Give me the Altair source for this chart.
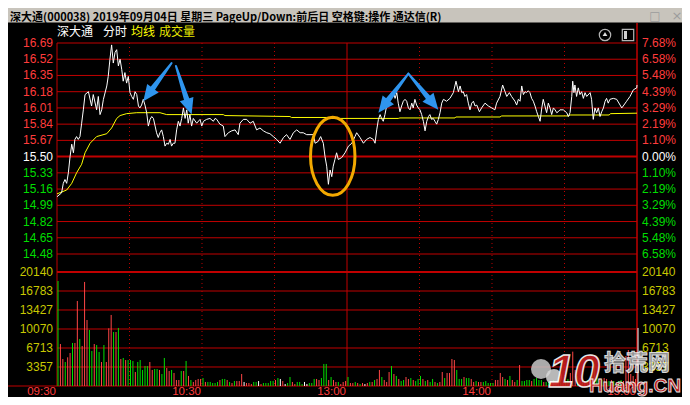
import math
import altair as alt
import pandas as pd

# ---------------- data ----------------
PREV_CLOSE = 15.50
PRICE_TICKS = [16.69, 16.52, 16.35, 16.18, 16.01, 15.84, 15.67, 15.50,
               15.33, 15.16, 14.99, 14.82, 14.65, 14.48]
VOL_TICKS = [20140, 16783, 13427, 10070, 6713, 3357]
TIME_LABELS = ["09:30", "10:30", "13:00", "14:00", "15:00"]
TIME_MINUTES = [0, 60, 120, 180, 240]
DOTTED_MINUTES = [30, 60, 90, 150, 180, 210]
SOLID_MINUTES = [0, 120]

TITLE = "深大通(000038)  2019年09月04日 星期三 PageUp/Down:前后日 空格键:操作 通达信(R)"
HEADER = ["深大通", "分时", "均线", "成交量"]

PRICE_MIN = [0, 1.9, 2.6, 3.3, 4.0, 4.7, 5.4, 6.1, 6.8, 7.4, 8.1, 8.8, 9.5, 10.2, 10.9, 11.6, 13.0, 14.3, 15.0, 16.4,
             17.1, 17.8, 18.5, 19.2, 20.6, 21.2, 21.9, 22.6, 23.3, 24.0, 24.7, 25.4, 26.1, 26.8, 27.4, 28.1, 28.8, 29.5, 30.2, 30.9,
             31.6, 32.3, 33.0, 33.7, 34.3, 35.0, 35.7, 36.4, 37.1, 37.8, 38.5, 39.2, 39.9, 40.6, 41.2, 41.9, 42.6, 43.3, 44.0, 44.7,
             45.4, 46.1, 46.8, 47.4, 48.1, 48.8, 49.5, 50.2, 50.9, 51.6, 52.3, 53.0, 53.7, 54.3, 55.0, 55.7, 56.4, 57.8, 59.2, 59.9,
             60.6, 61.9, 63.3, 64.7, 65.4, 66.1, 67.4, 68.8, 69.5, 70.9, 72.3, 73.7, 75.0, 75.7, 77.1, 78.5, 79.9, 81.2, 82.6, 84.0,
             85.4, 86.8, 88.1, 89.5, 90.9, 92.3, 93.7, 95.0, 96.4, 97.8, 99.2, 100.6, 101.9, 103.3, 104.7, 106.1, 106.8, 108.1, 109.1, 110.2,
             110.9, 111.6, 112.3, 113.0, 113.7, 114.3, 115.0, 115.7, 116.4, 117.8, 119.2, 120.6, 122.0, 123.3, 124.0, 125.4, 126.8, 128.1, 129.5, 130.9,
             131.6, 132.3, 133.0, 133.7, 134.3, 135.0, 135.7, 136.4, 137.1, 137.8, 138.5, 139.2, 139.9, 140.6, 141.2, 141.9, 142.6, 143.3, 144.0, 144.7,
             145.4, 146.1, 146.8, 147.4, 148.1, 148.8, 149.5, 150.2, 150.9, 151.6, 152.3, 153.0, 153.7, 154.3, 155.0, 155.7, 156.4, 157.1, 157.8, 158.5,
             159.2, 159.9, 161.2, 162.6, 164.0, 165.1, 166.1, 166.8, 167.5, 168.1, 168.8, 169.5, 170.2, 170.9, 171.6, 172.3, 173.0, 173.7, 174.8, 175.7,
             177.1, 178.5, 179.9, 181.2, 181.9, 183.3, 184.4, 185.4, 186.1, 187.2, 188.1, 189.5, 190.2, 190.9, 191.6, 192.3, 193.0, 193.7, 194.3, 195.0,
             195.7, 196.4, 197.1, 197.8, 198.5, 199.2, 199.9, 200.6, 201.2, 201.9, 202.6, 203.3, 204.0, 204.7, 205.4, 206.1, 206.8, 207.4, 208.1, 209.5,
             210.9, 211.6, 212.3, 213.0, 213.4, 213.9, 214.3, 215.0, 215.7, 216.4, 217.1, 217.8, 218.5, 219.2, 220.6, 221.2, 221.9, 222.6, 223.3, 224.0,
             224.7, 225.4, 226.1, 226.8, 227.4, 228.1, 228.8, 230.2, 231.6, 233.0, 233.7, 234.3, 235.7, 237.1, 238.5, 239.9, 240]
PRICE_VAL = [15.08, 15.12, 15.22, 15.26, 15.22, 15.33, 15.50, 15.63, 15.54, 15.68, 15.71, 15.68, 15.71, 15.85, 15.99, 16.15, 16.18, 16.03, 16.15, 15.99,
             16.13, 15.94, 15.99, 16.10, 16.24, 16.34, 16.52, 16.67, 16.48, 16.59, 16.62, 16.45, 16.52, 16.41, 16.29, 16.38, 16.27, 16.34, 16.17, 16.13,
             16.10, 16.18, 16.15, 16.03, 16.01, 16.04, 16.10, 16.04, 15.96, 15.82, 15.89, 15.92, 15.90, 15.82, 15.75, 15.70, 15.75, 15.78, 15.71, 15.61,
             15.64, 15.63, 15.68, 15.61, 15.64, 15.64, 15.78, 15.87, 15.82, 15.90, 16.01, 15.90, 15.99, 15.85, 15.94, 15.82, 15.90, 15.85, 15.89, 15.82,
             15.87, 15.89, 15.90, 15.87, 15.90, 15.89, 15.84, 15.82, 15.71, 15.75, 15.77, 15.78, 15.73, 15.85, 15.89, 15.89, 15.85, 15.87, 15.78, 15.80,
             15.77, 15.75, 15.74, 15.71, 15.68, 15.64, 15.70, 15.73, 15.68, 15.75, 15.78, 15.75, 15.75, 15.73, 15.73, 15.73, 15.64, 15.66, 15.71, 15.64,
             15.50, 15.40, 15.21, 15.36, 15.29, 15.40, 15.47, 15.54, 15.47, 15.49, 15.54, 15.61, 15.64, 15.71, 15.75, 15.70, 15.64, 15.68, 15.70, 15.68,
             15.64, 15.78, 15.89, 15.94, 15.90, 15.87, 15.94, 16.03, 16.10, 16.13, 16.17, 16.18, 16.11, 16.17, 16.06, 15.97, 16.03, 16.08, 16.10, 16.08,
             16.01, 15.99, 16.06, 16.01, 16.10, 16.04, 16.01, 15.99, 15.94, 15.87, 15.77, 15.87, 15.92, 15.94, 15.89, 15.90, 15.87, 15.84, 15.89, 15.96,
             16.06, 16.10, 16.08, 16.11, 16.17, 16.29, 16.18, 16.24, 16.17, 16.18, 16.13, 16.15, 16.06, 15.99, 16.06, 16.08, 16.03, 16.04, 15.97, 16.01,
             16.06, 16.03, 16.01, 15.99, 16.06, 16.13, 16.25, 16.18, 16.13, 16.17, 16.13, 16.08, 16.04, 16.10, 16.08, 16.24, 16.15, 16.18, 16.17, 16.19,
             16.17, 16.11, 16.08, 16.03, 15.97, 15.92, 15.87, 16.01, 16.10, 16.03, 15.96, 16.06, 16.01, 15.94, 16.01, 15.99, 15.96, 15.97, 15.99, 15.99,
             15.96, 15.92, 15.96, 16.13, 16.29, 16.17, 16.25, 16.13, 16.22, 16.15, 16.18, 16.11, 16.17, 16.13, 16.17, 16.10, 15.89, 16.01, 15.96, 16.01,
             15.92, 15.97, 16.01, 16.08, 16.11, 16.06, 16.10, 16.11, 16.10, 16.04, 16.01, 16.03, 16.08, 16.13, 16.20, 16.22, 16.25]

AVG_MIN = [0, 4.0, 6.1, 8.1, 10.2, 11.6, 13.7, 16.4, 20.6, 22.6, 24.7, 26.1, 28.8, 33.0, 42.6, 45.4, 68.8, 69.5,
           96.4, 97.0, 111.6, 112.3, 141.2, 141.9, 164.7, 165.0, 183.3, 184.0, 211.6, 212.3, 228.5, 229.0, 240]
AVG_VAL = [15.11, 15.15, 15.22, 15.33, 15.42, 15.54, 15.64, 15.71, 15.74, 15.80, 15.90, 15.93, 15.95, 15.96, 15.96, 15.94, 15.94, 15.93,
           15.92, 15.91, 15.91, 15.90, 15.90, 15.905, 15.905, 15.915, 15.915, 15.926, 15.926, 15.936, 15.936, 15.95, 15.955]

VOL = [18550, 7420, 4770, 4240, 5070, 5830, 7600, 7600, 15020, 8300,
       7070, 18380, 11660, 9900, 6180, 7420, 7240, 6010, 4240, 7240,
       4240, 10190, 12550, 9540, 9540, 10250, 4770, 4950, 4590, 4590,
       4590, 4420, 2470, 4240, 4590, 2830, 3530, 3530, 4240, 2830,
       3000, 3000, 2830, 2120, 4950, 3180, 2650, 2830, 2300, 1060,
       1060, 2650, 2650, 4420, 1770, 1060, 710, 1060, 1240, 1240,
       1410, 710, 710, 710, 530, 530, 710, 1060, 1240, 1240,
       1060, 710, 530, 880, 880, 880, 2120, 710, 530, 530,
       350, 710, 710, 880, 350, 530, 530, 530, 880, 880,
       1060, 1410, 1240, 880, 350, 530, 1590, 710, 350, 710,
       710, 350, 710, 350, 530, 530, 1240, 1240, 1060, 1410,
       3890, 3890, 1060, 1590, 1060, 710, 710, 350, 710, 880,
       1590, 530, 530, 710, 530, 350, 530, 350, 530, 710,
       710, 1060, 1240, 2830, 1590, 1060, 710, 2470, 3530, 2120,
       1770, 1240, 880, 1060, 1590, 1240, 1410, 1060, 880, 1240,
       1770, 1240, 880, 1060, 710, 1240, 710, 530, 710, 2470,
       1410, 2300, 2300, 4770, 4590, 2830, 1240, 1240, 1590, 1410,
       1410, 1240, 710, 880, 710, 710, 710, 880, 530, 530,
       530, 1060, 1060, 2300, 1590, 1240, 1060, 1770, 1060, 710,
       1060, 3710, 880, 880, 1060, 1060, 880, 1240, 1410, 1060,
       1060, 710, 710, 710, 880, 1060, 710, 880, 1060, 710,
       880, 1240, 2300, 6070, 2830, 1770, 1410, 1060, 880, 1060,
       880, 1770, 3900, 2120, 1240, 1060, 1410, 1240, 880, 1060,
       880, 710, 880, 1060, 880, 5300, 6360, 2120, 1770, 1240,
       10250]
VOL_DIR = "".join([
    "grrgrrgrrg", "rrrggrggrg", "rrrgrgrgrg", "ggrgggggrr", "ggrggrrgrr",
    "rgrgrgrrrr", "grgggggrgg", "rgrgrrrwrr", "rggwrggggg", "rgwrwggrrg",
    "ggwwgggrrg", "ggrgrrgrrr", "grrgrgrwrg", "rgrrgrrrgr", "grggrrgrgg",
    "grgrggrgrr", "grrrrgggrg", "grrgrrgggg", "grrrrgrgrr", "grggggrggg",
    "grggrggrgr", "ggrrrgrgrg", "rgggrgrrgr", "grggrrrrrr", "w"])
assert len(PRICE_MIN) == len(PRICE_VAL)
assert len(AVG_MIN) == len(AVG_VAL)
assert len(VOL) == 241 and len(VOL_DIR) == 241

# annotation anchors in data coordinates (minute, price)
ARROW_APEX = [(47.4, 16.48), (49.2, 16.45), (145.4, 16.37), (145.4, 16.37)]
ARROW_TIP = [(35.7, 16.08), (55.7, 15.94), (133.0, 15.96), (157.8, 15.99)]
CIRCLE_AT = (114.1, 15.503)

# ---------------- geometry / styles ----------------
W, H = 580, 343
PX_PER_PRICE = 211 / 2.21
P_TOP = PRICE_TICKS[0]
P_BOT = P_TOP - H / PX_PER_PRICE
VOL_TOP = VOL_TICKS[0] * H / 114
PX_PER_MIN = W / 240

GRID = "#c00000"
UP_TXT = "#ff3c3c"
DN_TXT = "#00dd00"
UP_BAR = "#ff4646"
DN_BAR = "#00e000"
VOL_TXT = "#c8c800"
NUM_FONT = "Liberation Sans"
CJK_FONT = "Noto Sans CJK SC"

xs = alt.Scale(domain=[0, 240], nice=False, zero=False)
ps = alt.Scale(domain=[P_BOT, P_TOP], nice=False, zero=False)
vs = alt.Scale(domain=[0, VOL_TOP], nice=False, zero=False)


def X(f):
    return alt.X(f, type="quantitative", scale=xs, axis=None)


def YP(f):
    return alt.Y(f, type="quantitative", scale=ps, axis=None)


def YV(f):
    return alt.Y(f, type="quantitative", scale=vs, axis=None)


one = pd.DataFrame({"k": [0]})


def txt(s, x, y, **kw):
    return alt.Chart(one).mark_text(**kw).encode(x=alt.value(x), y=alt.value(y), text=alt.value(s))


layers = []

# title bar and header
layers.append(alt.Chart(one).mark_rect(color="#c8c4bc").encode(
    x=alt.value(-49), x2=alt.value(625), y=alt.value(-35), y2=alt.value(-20.5)))
layers.append(txt(TITLE, -47, -22.5, align="left", baseline="alphabetic", font=CJK_FONT,
                  fontSize=11, fontWeight="bold", color="#000000"))
layers.append(txt("□", 598, -27, align="center", baseline="middle", font="DejaVu Sans",
                  fontSize=12, color="#9c9c9c"))
layers.append(txt("×", 620, -27, align="center", baseline="middle", font="DejaVu Sans",
                  fontSize=13, color="#9c9c9c"))
for s, x, c in zip(HEADER, [0, 46, 74, 102], ["#ffffff", "#ffffff", "#ffff00", "#e6e600"]):
    layers.append(txt(s, x, -11, align="left", baseline="middle", font=CJK_FONT, fontSize=12, color=c))
# small icons
layers.append(alt.Chart(one).mark_point(shape="circle", size=130, filled=False, color="#b4b4b4",
                                        strokeWidth=1.2, opacity=1).encode(x=alt.value(548), y=alt.value(-8)))
layers.append(alt.Chart(one).mark_point(shape="triangle-up", size=22, filled=True, color="#e0e0e0",
                                        opacity=1).encode(x=alt.value(548), y=alt.value(-9)))
layers.append(alt.Chart(one).mark_point(shape="square", size=130, filled=False, color="#b4b4b4",
                                        strokeWidth=1.2, opacity=1).encode(x=alt.value(571), y=alt.value(-8)))
layers.append(alt.Chart(one).mark_rect(color="#d0d0d0").encode(
    x=alt.value(567), x2=alt.value(570), y=alt.value(-12), y2=alt.value(-4)))

# horizontal grid
pg = pd.DataFrame({"p": PRICE_TICKS, "w": [2 if p == PREV_CLOSE else 1 for p in PRICE_TICKS]})
layers.append(alt.Chart(pg).mark_rule(color=GRID).encode(
    y=YP("p"), x=alt.value(0), x2=alt.value(W), strokeWidth=alt.StrokeWidth("w:Q", scale=None)))
vg = pd.DataFrame({"v": VOL_TICKS, "w": [2 if v == VOL_TICKS[0] else 1 for v in VOL_TICKS]})
layers.append(alt.Chart(vg).mark_rule(color=GRID).encode(
    y=YV("v"), x=alt.value(0), x2=alt.value(W), strokeWidth=alt.StrokeWidth("w:Q", scale=None)))
layers.append(alt.Chart(one).mark_rule(color=GRID, strokeWidth=1).encode(
    y=alt.value(H), x=alt.value(-49), x2=alt.value(W)))

# vertical lines
layers.append(alt.Chart(pd.DataFrame({"m": DOTTED_MINUTES})).mark_rule(
    color=GRID, strokeWidth=1, strokeDash=[1, 3]).encode(x=X("m"), y=alt.value(0), y2=alt.value(H)))
layers.append(alt.Chart(pd.DataFrame({"m": SOLID_MINUTES})).mark_rule(
    color=GRID, strokeWidth=1).encode(x=X("m"), y=alt.value(0), y2=alt.value(H)))
layers.append(alt.Chart(pd.DataFrame({"m": [240]})).mark_rule(
    color=GRID, strokeWidth=1.5).encode(x=X("m"), y=alt.value(-20), y2=alt.value(H)))

# axis labels
pct = ["%.2f%%" % abs((p - PREV_CLOSE) / PREV_CLOSE * 100) for p in PRICE_TICKS]
pcol = [UP_TXT if p > PREV_CLOSE else ("#ffffff" if p == PREV_CLOSE else DN_TXT) for p in PRICE_TICKS]
lab = pd.DataFrame({"p": PRICE_TICKS, "t": ["%.2f" % p for p in PRICE_TICKS], "pc": pct, "c": pcol})
for col in [UP_TXT, "#ffffff", DN_TXT]:
    sub = lab[lab.c == col]
    layers.append(alt.Chart(sub).mark_text(align="right", baseline="middle", font=NUM_FONT,
                                           fontSize=12, color=col).encode(
        x=alt.value(-4), y=YP("p"), text="t:N"))
    layers.append(alt.Chart(sub).mark_text(align="left", baseline="middle", font=NUM_FONT,
                                           fontSize=12, color=col).encode(
        x=alt.value(W + 5), y=YP("p"), text="pc:N"))
vl = pd.DataFrame({"v": VOL_TICKS, "t": [str(v) for v in VOL_TICKS]})
layers.append(alt.Chart(vl).mark_text(align="right", baseline="middle", font=NUM_FONT, fontSize=12,
                                      color=VOL_TXT).encode(x=alt.value(-4), y=YV("v"), text="t:N"))
layers.append(alt.Chart(vl).mark_text(align="left", baseline="middle", font=NUM_FONT, fontSize=12,
                                      color=VOL_TXT).encode(x=alt.value(W + 5), y=YV("v"), text="t:N"))
tl = pd.DataFrame({"m": TIME_MINUTES, "t": TIME_LABELS})
layers.append(alt.Chart(tl).mark_text(align="right", baseline="alphabetic", font=NUM_FONT, fontSize=11.5,
                                      color=UP_TXT, dx=-1).encode(x=X("m"), y=alt.value(H + 8.5), text="t:N"))

# volume bars
vdf = pd.DataFrame({"m": list(range(241)), "v": VOL, "d": list(VOL_DIR)})
layers.append(alt.Chart(vdf).mark_rule(strokeWidth=1, xOffset=1).encode(
    x=X("m"), y=YV("v"), y2=alt.value(H),
    color=alt.Color("d:N", scale=alt.Scale(domain=["r", "g", "w"], range=[UP_BAR, DN_BAR, "#ffffff"]),
                    legend=None)))

# average and price lines
layers.append(alt.Chart(pd.DataFrame({"m": AVG_MIN, "p": AVG_VAL})).mark_line(
    color="#ffff00", strokeWidth=1).encode(x=X("m"), y=YP("p")))
layers.append(alt.Chart(pd.DataFrame({"m": PRICE_MIN, "p": PRICE_VAL})).mark_line(
    color="#ffffff", strokeWidth=1).encode(x=X("m"), y=YP("p")))

# annotations: blue arrows
trail_rows, head_rows = [], []
for i, ((ma, pa), (mt, pt)) in enumerate(zip(ARROW_APEX, ARROW_TIP)):
    dx = (mt - ma) * PX_PER_MIN
    dy = -(pt - pa) * PX_PER_PRICE
    ang = math.degrees(math.atan2(dx, -dy)) % 360
    f = 0.78
    trail_rows.append({"id": i, "o": 0, "m": ma, "p": pa, "w": 2.0})
    trail_rows.append({"id": i, "o": 1, "m": ma + f * (mt - ma), "p": pa + f * (pt - pa), "w": 6.0})
    head_rows.append({"m": mt, "p": pt, "a": ang})
BLUE = "#2f95ee"
layers.append(alt.Chart(pd.DataFrame(trail_rows)).mark_trail(color=BLUE).encode(
    x=X("m"), y=YP("p"), detail="id:N", order="o:Q", size=alt.Size("w:Q", scale=None, legend=None)))
layers.append(alt.Chart(pd.DataFrame(head_rows)).mark_point(
    shape="M 0 0 L -0.55 1.25 L 0.55 1.25 Z", size=676, filled=True, color=BLUE, opacity=1).encode(
    x=X("m"), y=YP("p"), angle=alt.Angle("a:Q", scale=None)))

# annotation: orange ellipse
layers.append(alt.Chart(pd.DataFrame({"m": [CIRCLE_AT[0]], "p": [CIRCLE_AT[1]]})).mark_point(
    shape="M -0.57 0 A 0.57 1 0 1 0 0.57 0 A 0.57 1 0 1 0 -0.57 0 Z", size=6084, filled=False,
    color="#f2a900", strokeWidth=3, opacity=1).encode(x=X("m"), y=YP("p")))

# watermark
layers.append(alt.Chart(one).mark_point(shape="circle", size=400, filled=True, color="#c8c8c8",
                                        opacity=0.85).encode(x=alt.value(484), y=alt.value(326)))
layers.append(alt.Chart(one).mark_point(shape="circle", size=260, filled=True, color="#d8d8d8",
                                        opacity=0.85).encode(x=alt.value(497), y=alt.value(334)))
layers.append(txt("10", 517, 344, align="center", baseline="alphabetic", font="Liberation Sans",
                  fontSize=46, fontWeight="bold", fontStyle="italic", color="#c81e1e",
                  stroke="#ffffff", strokeWidth=1.5, opacity=0.9))
layers.append(txt("拾荒网", 580, 320, align="center", baseline="middle", font=CJK_FONT,
                  fontSize=22, fontWeight="bold", color="#a8a8a8", stroke="#ffffff",
                  strokeWidth=1, opacity=0.85))
layers.append(txt("Huang.CN", 578, 343, align="center", baseline="middle", font="Liberation Sans",
                  fontSize=19, fontWeight="bold", color="#cc2020", stroke="#ffffff",
                  strokeWidth=0.8, opacity=0.9))

chart = alt.layer(*layers).resolve_scale(y="independent", color="independent").properties(
    width=W, height=H,
    padding={"left": 49, "top": 35, "right": 45, "bottom": 11},
    autosize=alt.AutoSizeParams(type="none"),
    background="#000000",
).configure_view(stroke=None)

chart.save("out.html", embed_options={"renderer": "svg", "actions": False})
